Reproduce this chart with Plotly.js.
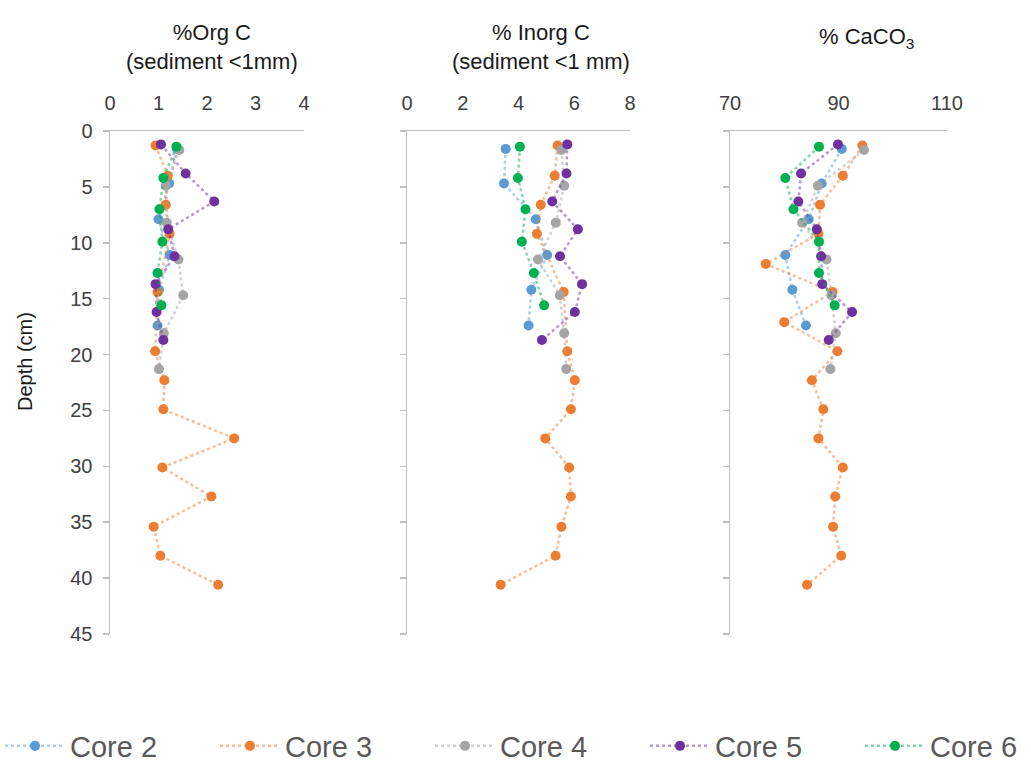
<!DOCTYPE html>
<html>
<head>
<meta charset="utf-8">
<script src="https://cdn.plot.ly/plotly-3.0.1.min.js"></script>
<style>html,body{margin:0;padding:0;background:#fff;}#chart{width:1031px;height:763px;}</style>
</head>
<body>
<div id="chart"></div>
<script>
// Depths (cm) for each core
const depth2 = [1.6, 4.7, 7.9, 11.1, 14.2, 17.4];
const depth3 = [1.3, 4.0, 6.6, 9.2, 11.9, 14.4, 17.1, 19.7, 22.3, 24.9, 27.5, 30.1, 32.7, 35.4, 38.0, 40.6];
const depth4 = [1.7, 4.9, 8.2, 11.5, 14.7, 18.1, 21.3];
const depth5 = [1.2, 3.8, 6.3, 8.8, 11.2, 13.7, 16.2, 18.7];
const depth6 = [1.4, 4.2, 7.0, 9.9, 12.7, 15.6];

// % Org C (sediment <1mm)
const orgC2 = [1.38, 1.22, 1.00, 1.23, 1.01, 0.98];
const orgC3 = [0.94, 1.19, 1.15, 1.23, null, 0.98, null, 0.93, 1.12, 1.10, 2.56, 1.08, 2.09, 0.90, 1.04, 2.23];
const orgC4 = [1.43, 1.15, 1.17, 1.41, 1.51, 1.11, 1.01];
const orgC5 = [1.05, 1.56, 2.15, 1.20, 1.33, 0.94, 0.96, 1.10];
const orgC6 = [1.37, 1.10, 1.02, 1.08, 0.98, 1.06];

// % Inorg C (sediment <1 mm)
const inorgC2 = [3.54, 3.48, 4.62, 5.03, 4.46, 4.36];
const inorgC3 = [5.40, 5.30, 4.80, 4.66, null, 5.62, null, 5.75, 6.02, 5.88, 4.96, 5.82, 5.88, 5.54, 5.33, 3.36];
const inorgC4 = [5.54, 5.64, 5.34, 4.70, 5.48, 5.64, 5.71];
const inorgC5 = [5.75, 5.72, 5.21, 6.13, 5.49, 6.28, 6.02, 4.84];
const inorgC6 = [4.05, 3.98, 4.25, 4.12, 4.55, 4.92];

// % CaCO3
const caco3_2 = [90.6, 86.9, 84.5, 80.2, 81.5, 84.0];
const caco3_3 = [94.4, 90.8, 86.6, 86.3, 76.6, 88.9, 80.0, 89.8, 85.1, 87.2, 86.3, 90.8, 89.4, 89.0, 90.5, 84.2];
const caco3_4 = [94.7, 86.2, 83.3, 87.8, 88.7, 89.5, 88.5];
const caco3_5 = [89.9, 83.1, 82.6, 86.0, 86.8, 87.0, 92.5, 88.2];
const caco3_6 = [86.4, 80.2, 81.7, 86.4, 86.4, 89.3];

const coreNames = ['Core 2', 'Core 3', 'Core 4', 'Core 5', 'Core 6'];
const depthTicks = [0, 5, 10, 15, 20, 25, 30, 35, 40, 45];
const orgTicks = [0, 1, 2, 3, 4];
const inorgTicks = [0, 2, 4, 6, 8];
const caco3Ticks = [70, 90, 110];

const depths = [depth2, depth3, depth4, depth5, depth6];
const panels = [
  [orgC2, orgC3, orgC4, orgC5, orgC6],
  [inorgC2, inorgC3, inorgC4, inorgC5, inorgC6],
  [caco3_2, caco3_3, caco3_4, caco3_5, caco3_6]
];
const markerColors = ['#5B9BD5', '#ED7D31', '#A5A5A5', '#7030A0', '#00B050'];
const lineColors = ['rgba(91,155,213,0.5)', 'rgba(237,125,49,0.5)', 'rgba(165,165,165,0.5)', 'rgba(112,48,160,0.5)', 'rgba(0,176,80,0.5)'];

const traces = [];
panels.forEach((series, p) => {
  series.forEach((vals, i) => {
    traces.push({
      type: 'scatter',
      mode: 'lines+markers',
      x: vals,
      y: depths[i],
      name: coreNames[i],
      legendgroup: coreNames[i],
      legend: i === 4 ? 'legend2' : 'legend',
      showlegend: p === 0,
      connectgaps: true,
      xaxis: p === 0 ? 'x' : 'x' + (p + 1),
      yaxis: p === 0 ? 'y' : 'y' + (p + 1),
      line: {color: lineColors[i], width: 2.5, dash: 'dot'},
      marker: {color: markerColors[i], size: 10}
    });
  });
});

const W = 1031, H = 763, MB = 100, MT = 0;
const HP = H - MB - MT;
const py = (ypx) => (H - MB - ypx) / HP;      // pixel row -> paper fraction
const yTop = 131, yBot = 634;
const yDom = [py(yBot), py(yTop)];
const FONT = 'Liberation Sans, Arial, sans-serif';
const tickFont = {family: FONT, size: 20, color: '#404040'};

function xAxis(px0, px1, range, ticks, anchor) {
  return {
    domain: [px0 / W, px1 / W], range: range, tickmode: 'array', tickvals: ticks, ticktext: ticks.map(String),
    side: 'top', anchor: anchor, automargin: false,
    showline: true, linecolor: '#BFBFBF', linewidth: 1.5, ticks: '', showgrid: false, zeroline: false,
    tickfont: tickFont, ticklabelstandoff: 12, fixedrange: true
  };
}
function yAxis(anchor, showLabels) {
  return {
    domain: yDom, range: [45, 0], tickmode: 'array', tickvals: depthTicks, ticktext: depthTicks.map(String),
    anchor: anchor, automargin: false,
    showline: true, linecolor: '#BFBFBF', linewidth: 1.5, ticks: 'outside', ticklen: 6,
    tickcolor: '#BFBFBF', tickwidth: 1.5, showgrid: false, zeroline: false,
    showticklabels: showLabels, tickfont: tickFont, ticklabelstandoff: 6, fixedrange: true
  };
}

const legendFont = {family: FONT, size: 29, color: '#595959'};
const titleFont = {family: FONT, size: 22, color: '#1a1a1a'};
const layout = {
  width: W, height: H,
  margin: {l: 0, r: 0, t: MT, b: MB},
  paper_bgcolor: '#ffffff', plot_bgcolor: '#ffffff',
  showlegend: true,
  font: {family: FONT, color: '#404040'},
  xaxis: xAxis(110, 304, [0, 4], orgTicks, 'y'),
  xaxis2: xAxis(407, 630, [0, 8], inorgTicks, 'y2'),
  xaxis3: xAxis(730, 947, [70, 110], caco3Ticks, 'y3'),
  yaxis: yAxis('x', true),
  yaxis2: yAxis('x2', false),
  yaxis3: yAxis('x3', false),
  legend: {
    orientation: 'h', x: 0, xanchor: 'left', xref: 'container', yref: 'container',
    y: (H - 746) / H, yanchor: 'middle', font: legendFont,
    itemwidth: 60, entrywidth: 140, entrywidthmode: 'pixels', bgcolor: 'rgba(0,0,0,0)'
  },
  legend2: {
    orientation: 'h', x: 860 / W, xanchor: 'left', xref: 'container', yref: 'container',
    y: (H - 746) / H, yanchor: 'middle', font: legendFont,
    itemwidth: 60, bgcolor: 'rgba(0,0,0,0)'
  },
  annotations: [
    {text: '%Org C<br>(sediment <1mm)', x: 212 / W, y: py(47), xref: 'paper', yref: 'paper',
     xanchor: 'center', yanchor: 'middle', showarrow: false, font: titleFont},
    {text: '% Inorg C<br>(sediment <1 mm)', x: 541 / W, y: py(47), xref: 'paper', yref: 'paper',
     xanchor: 'center', yanchor: 'middle', showarrow: false, font: titleFont},
    {text: '% CaCO<sub>3</sub>', x: 866 / W, y: py(38), xref: 'paper', yref: 'paper',
     xanchor: 'center', yanchor: 'middle', showarrow: false, font: titleFont},
    {text: 'Depth (cm)', x: 25 / W, y: py(362), xref: 'paper', yref: 'paper',
     xanchor: 'center', yanchor: 'middle', showarrow: false, textangle: -90,
     font: {family: FONT, size: 20, color: '#1a1a1a'}}
  ]
};

Plotly.newPlot('chart', traces, layout, {displayModeBar: false, staticPlot: true});
</script>
</body>
</html>
